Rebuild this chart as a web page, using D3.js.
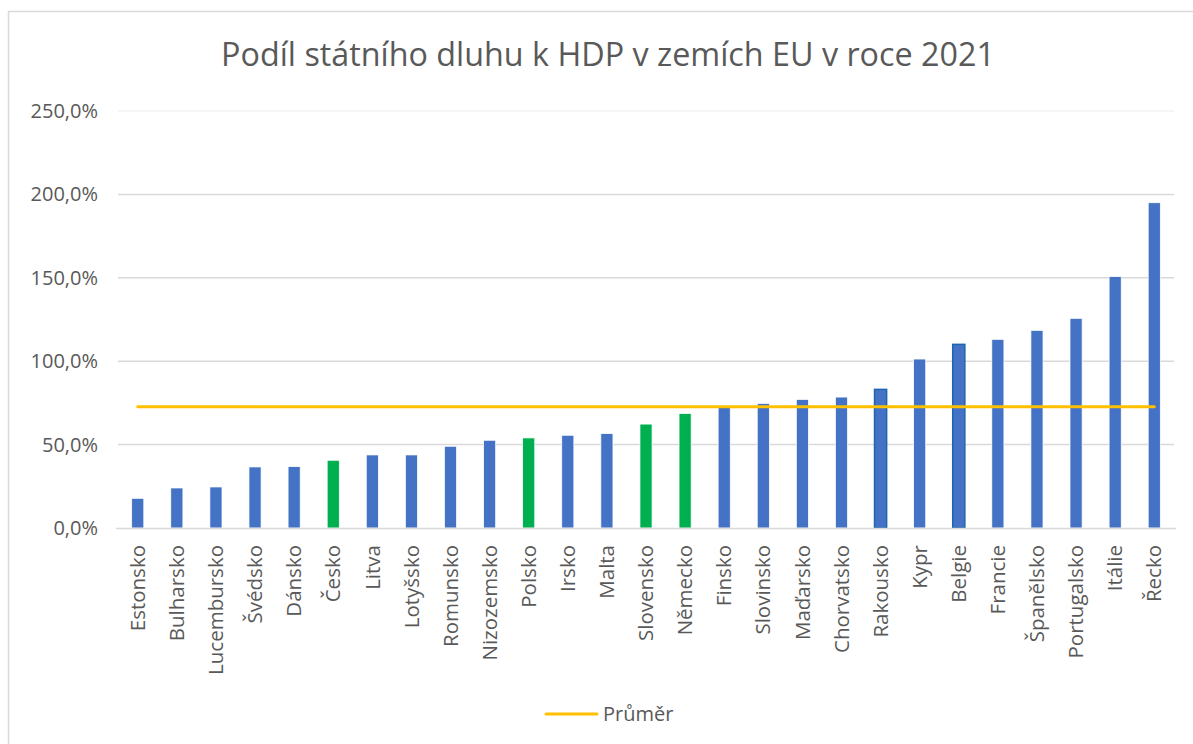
<!DOCTYPE html>
<html>
<head>
<meta charset="utf-8">
<script src="https://cdn.jsdelivr.net/npm/d3@7"></script>
<style>
  body { margin: 0; background: #fff; }
  svg { display: block; font-family: "Open Sans", sans-serif; }
</style>
</head>
<body>
<div id="chart"></div>
<script>
// Data (% of GDP, 2021).
var countries = ["Estonsko","Bulharsko","Lucembursko","Švédsko","Dánsko","Česko","Litva","Lotyšsko",
  "Romunsko","Nizozemsko","Polsko","Irsko","Malta","Slovensko","Německo","Finsko","Slovinsko",
  "Maďarsko","Chorvatsko","Rakousko","Kypr","Belgie","Francie","Španělsko","Portugalsko","Itálie","Řecko"];
var debt = [17.8, 24.0, 24.6, 36.6, 36.8, 40.6, 43.8, 43.8, 49.0, 52.6, 54.0, 55.6, 56.6, 62.3, 68.7,
  72.3, 74.7, 77.1, 78.5, 83.1, 101.3, 110.1, 113.1, 118.5, 125.7, 150.7, 195.0];
var average = 72.7;
var greenCountries = ["Česko","Polsko","Slovensko","Německo"];   // shown in green
var outlinedCountries = ["Rakousko","Belgie"];                   // darker outline in the original
var yTicks = [0, 50, 100, 150, 200, 250];

var W = 1193, H = 744;
var plotLeft = 118, plotRight = 1174, plotTop = 111, plotBottom = 528;

var svg = d3.select("#chart").append("svg").attr("width", W).attr("height", H);

// chart frame (runs off the right and bottom edge)
svg.append("rect").attr("x", 8.5).attr("y", 11.5).attr("width", 1200).attr("height", 800)
  .attr("fill", "none").attr("stroke", "#d9d9d9").attr("stroke-width", 1.5);

var x = d3.scaleBand().domain(countries).range([plotLeft, plotRight]).paddingInner(0.69).paddingOuter(0.35);
var y = d3.scaleLinear().domain([0, 250]).range([plotBottom, plotTop]);

// Gridlines, the top one is nearly invisible
svg.append("g").selectAll("line").data(yTicks.slice(1)).enter().append("line")
  .attr("x1", plotLeft).attr("x2", plotRight)
  .attr("y1", function(d){ return y(d); }).attr("y2", function(d){ return y(d); })
  .attr("stroke", function(d){ return d == 250 ? "#f2f2f2" : "#d9d9d9"; })
  .attr("stroke-width", 1.5);

// Y labels
var fmt = function(d){ return d3.format(".1f")(d).replace(".", ",") + "%"; };
svg.append("g").selectAll("text").data(yTicks).enter().append("text")
  .attr("x", 98).attr("y", function(d){ return y(d); }).attr("dy", "0.35em")
  .attr("text-anchor", "end").attr("font-size", 20).attr("fill", "#595959")
  .text(fmt);

// Bars
svg.append("g").selectAll("rect").data(debt).enter().append("rect")
  .attr("x", function(d, i){ return x(countries[i]); })
  .attr("width", x.bandwidth())
  .attr("y", function(d){ return y(d); })
  .attr("height", function(d){ return y(0) - y(d); })
  .attr("fill", function(d, i){ return greenCountries.indexOf(countries[i]) >= 0 ? "#00b050" : "#4472c4"; })
  .attr("stroke", function(d, i){ return outlinedCountries.indexOf(countries[i]) >= 0 ? "#1f64ae" : "#ffffff"; })
  .attr("stroke-width", function(d, i){ return outlinedCountries.indexOf(countries[i]) >= 0 ? 1.5 : 0.75; });

// X axis line
svg.append("line").attr("x1", plotLeft - 2).attr("x2", plotRight + 2)
  .attr("y1", plotBottom + 0.5).attr("y2", plotBottom + 0.5)
  .attr("stroke", "#d9d9d9").attr("stroke-width", 1.5);

// Category labels, rotated
svg.append("g").selectAll("text").data(countries).enter().append("text")
  .attr("transform", function(d){ return "translate(" + (x(d) + x.bandwidth() / 2) + ",545) rotate(-90)"; })
  .attr("dy", "0.35em").attr("text-anchor", "end")
  .attr("font-size", 20.5).attr("fill", "#595959")
  .text(function(d){ return d; });

// Average line
var avgLine = d3.line()
  .x(function(d){ return x(d) + x.bandwidth() / 2; })
  .y(function(){ return y(average); });
svg.append("path").datum([countries[0], countries[countries.length - 1]])
  .attr("d", avgLine).attr("fill", "none")
  .attr("stroke", "#ffc000").attr("stroke-width", 3).attr("stroke-linecap", "round");

// Title
svg.append("text").attr("x", 608).attr("y", 66).attr("text-anchor", "middle")
  .attr("font-size", 32.3).attr("fill", "#595959")
  .text("Podíl státního dluhu k HDP v zemích EU v roce 2021");

// Legend
svg.append("line").attr("x1", 546).attr("x2", 597).attr("y1", 714).attr("y2", 714)
  .attr("stroke", "#ffc000").attr("stroke-width", 3).attr("stroke-linecap", "round");
svg.append("text").attr("x", 603).attr("y", 714).attr("dy", "0.35em")
  .attr("font-size", 20).attr("fill", "#595959").text("Průměr");
</script>
</body>
</html>
